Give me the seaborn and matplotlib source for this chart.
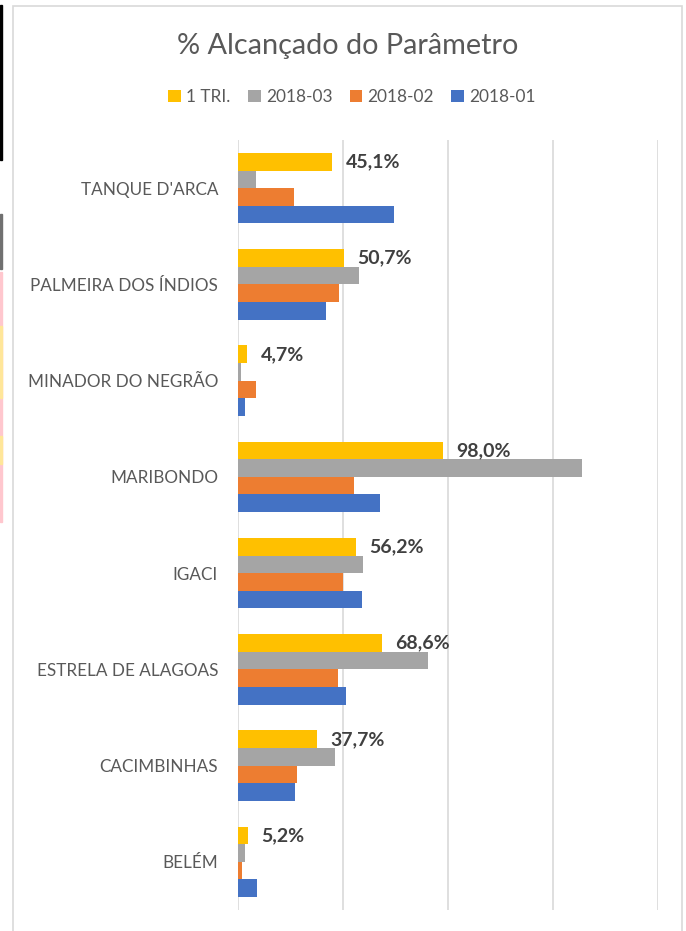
import numpy as np
import pandas as pd
import seaborn as sns
import matplotlib
matplotlib.use('Agg')
import matplotlib.pyplot as plt
from matplotlib.patches import Rectangle

# DATA
cidades = ["TANQUE D'ARCA", 'PALMEIRA DOS ÍNDIOS', 'MINADOR DO NEGRÃO', 'MARIBONDO',
           'IGACI', 'ESTRELA DE ALAGOAS', 'CACIMBINHAS', 'BELÉM']
series = ['1 TRI.', '2018-03', '2018-02', '2018-01']
tri1 = [45.1, 50.7, 4.7, 98.0, 56.2, 68.6, 37.7, 5.2]
m03 = [8.8, 57.9, 1.5, 164.2, 59.8, 90.7, 46.2, 3.5]
m02 = [27.0, 48.3, 9.0, 55.6, 50.4, 48.0, 28.4, 2.3]
m01 = [74.4, 42.0, 3.7, 68.0, 59.4, 51.5, 27.2, 9.4]
cores = ['#FFC000', '#A5A5A5', '#ED7D31', '#4472C4']

df = pd.DataFrame({
    'cidade': cidades * 4,
    'serie': np.repeat(series, len(cidades)),
    'valor': tri1 + m03 + m02 + m01,
})

# PLOT
sns.set_style('white')
plt.rcParams['font.family'] = ['Lato', 'DejaVu Sans']

W, H = 686, 931
fig = plt.figure(figsize=(6.86, 9.31), dpi=100)
ax = fig.add_axes([237.5 / W, 1 - 910 / H, 420.2 / W, 770 / H])

sns.barplot(data=df, y='cidade', x='valor', hue='serie', order=cidades, hue_order=series,
            palette=cores, orient='h', width=0.73, linewidth=0, saturation=1, ax=ax)

ax.set_xlim(0, 200)
ax.set_xticks([0, 50, 100, 150, 200])
ax.set_xticklabels([])
ax.grid(axis='x', color='#d9d9d9', linewidth=1.2)
ax.set_axisbelow(True)
sns.despine(ax=ax, left=True, bottom=True)
ax.set_xlabel('')
ax.set_ylabel('')
ax.tick_params(axis='both', length=0)
ax.tick_params(axis='y', pad=14, labelsize=12.3, labelcolor='#595959')

# labels on 1 TRI. bars
rotulos = [f'{v:.1f}%'.replace('.', ',') for v in tri1]
ax.bar_label(ax.containers[0], labels=rotulos, padding=9.5, fontsize=14,
             fontweight='bold', color='#404040')

# legend on top
handles, labels = ax.get_legend_handles_labels()
ax.legend_.remove()
fig.legend(handles, labels, loc='center', bbox_to_anchor=(352 / W, 1 - 97 / H), ncol=4,
           frameon=False, fontsize=12.4, labelcolor='#595959', handlelength=0.75, handleheight=0.75,
           handletextpad=0.3, columnspacing=1.0)

fig.text(348 / W, 1 - 46 / H, '% Alcançado do Parâmetro', ha='center', va='center',
         fontsize=20.8, color='#595959')

# chart border and screenshot edge
fig.patches.append(Rectangle((13 / W, -0.01), 669 / W, 1.01 - 6 / H, transform=fig.transFigure,
                             fill=False, edgecolor='#d9d9d9', linewidth=1.2))
fig.patches.append(Rectangle((0, 1 - 160 / H), 2 / W, 155 / H, transform=fig.transFigure,
                             color='black'))
fig.patches.append(Rectangle((0, 1 - 269 / H), 2 / W, 55 / H, transform=fig.transFigure,
                             color='#707070'))
fig.patches.append(Rectangle((0, 1 - 522 / H), 1.5 / W, 250 / H, transform=fig.transFigure,
                             color='#FFC7CE'))
fig.patches.append(Rectangle((0, 1 - 398 / H), 1.5 / W, 72 / H, transform=fig.transFigure,
                             color='#FFE699'))
fig.patches.append(Rectangle((0, 1 - 464 / H), 1.5 / W, 28 / H, transform=fig.transFigure,
                             color='#FFE699'))

plt.savefig('out.png', dpi=100)
